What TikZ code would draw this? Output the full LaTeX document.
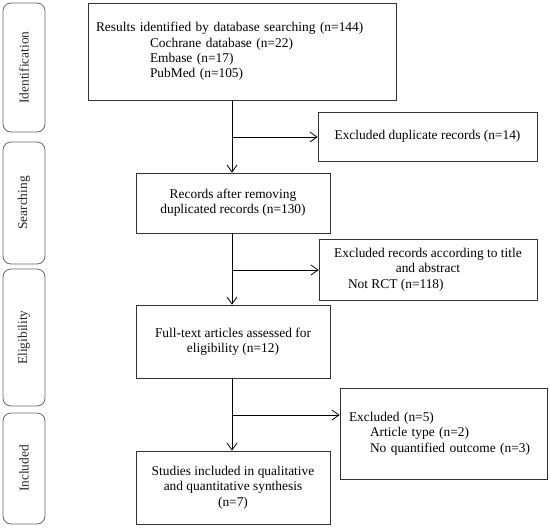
\documentclass[tikz,border=0pt]{standalone}
\usepackage{fontspec}
\setmainfont{Liberation Serif}
\usetikzlibrary{arrows.meta}

\begin{document}
\begin{tikzpicture}[x=1pt, y=-1pt, every node/.style={font=\fontsize{13.4}{15.3}\selectfont},
  stage/.style={draw=black!60, line width=0.8pt, rounded corners=8pt, minimum width=42pt},
  box/.style={draw=black!80, line width=0.7pt, inner sep=0pt, align=center},
  flow/.style={line width=0.8pt, -{Straight Barb[length=7pt,width=10pt]}}]
\useasboundingbox (0,0) rectangle (550,528);
\node[stage, minimum height=129pt] (ident) at (24,67.5) {};
\node[rotate=90, text=black!85] at (ident) {Identification};
\node[stage, minimum height=122pt] (searching) at (24,203) {};
\node[rotate=90, text=black!85] at (searching) {Searching};
\node[stage, minimum height=137pt] (elig) at (24,337.5) {};
\node[rotate=90, text=black!85] at (elig) {Eligibility};
\node[stage, minimum height=111pt] (incl) at (24,468.5) {};
\node[rotate=90, text=black!85] at (incl) {Included};

\node[box, minimum width=308pt, minimum height=97pt, text width=292pt, align=left] (results) at (242,51.5)
  {Results identified by database searching (n=144)\\
   \hspace*{54pt}Cochrane database (n=22)\\
   \hspace*{54pt}Embase (n=17)\\
   \hspace*{54pt}PubMed (n=105)};
\node[box, minimum width=219pt, minimum height=49pt] (dupl) at (427.5,136.5) {Excluded duplicate records (n=14)};
\node[box, minimum width=194pt, minimum height=60pt] (removed) at (233,203) {Records after removing\\duplicated records (n=130)};
\node[box, minimum width=218pt, minimum height=61pt] (title) at (428,269.5)
  {Excluded records according to title\\and abstract\\\makebox[188pt][l]{\hspace*{14pt}Not RCT (n=118)}};
\node[box, minimum width=194pt, minimum height=73pt] (fulltext) at (233,341.5) {Full-text articles assessed for\\eligibility (n=12)};
\node[box, minimum width=207pt, minimum height=91pt, text width=189pt, align=left] (excl) at (443.5,433.5)
  {Excluded (n=5)\\
   \hspace*{21pt}Article type (n=2)\\
   \hspace*{21pt}No quantified outcome (n=3)};
\node[box, minimum width=194pt, minimum height=73pt] (studies) at (233,487.5) {Studies included in qualitative\\and quantitative synthesis\\(n=7)};

\coordinate (b1) at (232,137);
\coordinate (b2) at (232,270);
\coordinate (b3) at (232,415);
\draw[flow] (results.south -| b1) -- (removed.north -| b1);
\draw[flow] (b1) -- (b1 -| dupl.west);
\draw[flow] (removed.south -| b2) -- (fulltext.north -| b2);
\draw[flow] (b2) -- (b2 -| title.west);
\draw[flow] (fulltext.south -| b3) -- (studies.north -| b3);
\draw[flow] (b3) -- (b3 -| excl.west);
\end{tikzpicture}
\end{document}
